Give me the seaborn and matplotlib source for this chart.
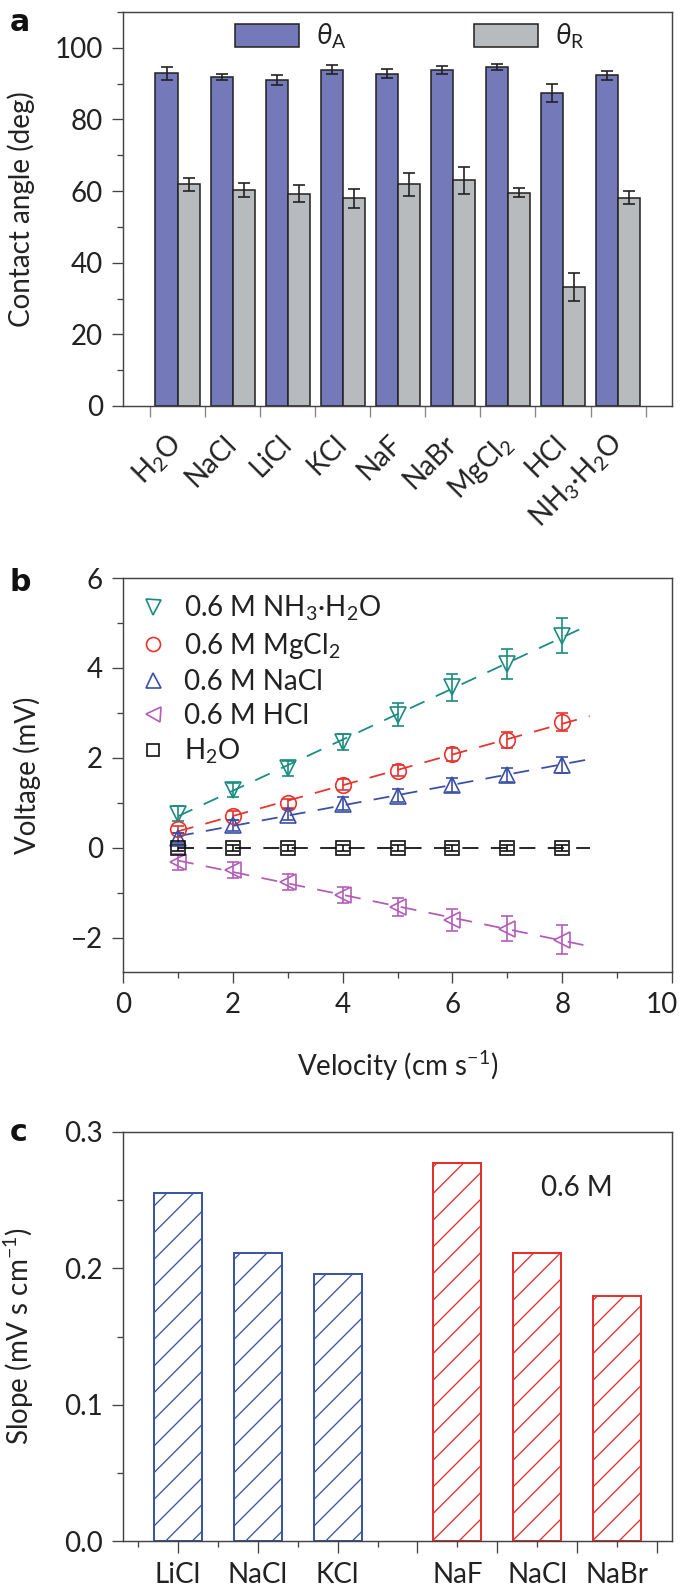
import numpy as np
import pandas as pd
import matplotlib
matplotlib.use("Agg")
import matplotlib.pyplot as plt
import matplotlib.transforms as mtransforms
import seaborn as sns

# panel a: advancing / receding contact angles
salts_a = ["H$_2$O", "NaCl", "LiCl", "KCl", "NaF", "NaBr", "MgCl$_2$", "HCl", "NH$_3$·H$_2$O"]
theta_adv = [92.9, 91.9, 91.0, 93.9, 92.8, 93.7, 94.7, 87.4, 92.3]
theta_adv_err = [1.8, 0.8, 1.4, 1.2, 1.25, 1.1, 0.8, 2.6, 1.25]
theta_rec = [61.9, 60.3, 59.3, 58.0, 61.9, 63.0, 59.6, 33.3, 58.2]
theta_rec_err = [1.75, 2.0, 2.4, 2.7, 3.15, 3.8, 1.35, 3.9, 1.7]

# panel b: voltage vs velocity
velocity = [1, 2, 3, 4, 5, 6, 7, 8]
v_nh3 = [0.76, 1.29, 1.77, 2.36, 2.96, 3.57, 4.09, 4.72]
v_nh3_err = [0.17, 0.16, 0.17, 0.18, 0.26, 0.30, 0.33, 0.39]
v_mgcl2 = [0.41, 0.71, 0.99, 1.40, 1.72, 2.08, 2.40, 2.79]
v_mgcl2_err = [0.08, 0.10, 0.10, 0.12, 0.12, 0.15, 0.18, 0.20]
v_nacl = [0.22, 0.50, 0.74, 0.98, 1.16, 1.40, 1.62, 1.85]
v_nacl_err = [0.12, 0.12, 0.12, 0.14, 0.15, 0.16, 0.15, 0.18]
v_hcl = [-0.32, -0.50, -0.75, -1.04, -1.32, -1.60, -1.80, -2.04]
v_hcl_err = [0.18, 0.18, 0.18, 0.18, 0.20, 0.24, 0.28, 0.33]
v_h2o = [0, 0, 0, 0, 0, 0, 0, 0]
v_h2o_err = [0.06, 0.06, 0.06, 0.06, 0.06, 0.06, 0.06, 0.06]

# panel c: slopes
salts_c = ["LiCl", "NaCl", "KCl", "NaF", "NaCl", "NaBr"]
slope_c = [0.255, 0.211, 0.196, 0.277, 0.211, 0.180]
group_c = ["cation", "cation", "cation", "anion", "anion", "anion"]

sns.set_theme(style="ticks")
plt.rcParams["font.family"] = ["Lato", "DejaVu Sans"]
plt.rcParams["mathtext.fontset"] = "custom"
plt.rcParams["mathtext.rm"] = "Lato"
plt.rcParams["mathtext.it"] = "Lato:italic"
plt.rcParams["mathtext.fallback"] = "stixsans"
plt.rcParams["hatch.linewidth"] = 1.2
plt.rcParams["axes.edgecolor"] = "#444444"
plt.rcParams["axes.linewidth"] = 1.3
plt.rcParams["text.color"] = "#222222"
plt.rcParams["axes.labelcolor"] = "#222222"

FS = 25
DPI = 80
W, H = 684, 1595
fig = plt.figure(figsize=(W / DPI, H / DPI), dpi=DPI)
ax_a = fig.add_axes([123 / W, 1 - 406 / H, 549 / W, 394 / H])
ax_b = fig.add_axes([123 / W, 1 - 972 / H, 549 / W, 394 / H])
ax_c = fig.add_axes([123 / W, 1 - 1541 / H, 549 / W, 409 / H])


def style_ticks(ax):
    ax.tick_params(which="both", direction="out", color="#444444", width=1.2,
                   labelsize=FS, labelcolor="#222222")
    ax.tick_params(which="major", length=10)
    ax.tick_params(which="minor", length=5.5)
    ax.tick_params(axis="y", which="major", pad=8)
    for s in ax.spines.values():
        s.set_color("#444444")


# ---------- a ----------
df_a = pd.DataFrame({
    "salt": salts_a * 2,
    "angle": theta_adv + theta_rec,
    "kind": [r"$\theta_{\mathrm{A}}$"] * 9 + [r"$\theta_{\mathrm{R}}$"] * 9,
})
sns.barplot(data=df_a, x="salt", y="angle", hue="kind", palette=["#7479BA", "#B8BBBE"],
            edgecolor="#222222", linewidth=1.4, errorbar=None, saturation=1, ax=ax_a)
for cont, err in zip(ax_a.containers, [theta_adv_err, theta_rec_err]):
    xs = [b.get_x() + b.get_width() / 2 for b in cont]
    ys = [b.get_height() for b in cont]
    ax_a.errorbar(xs, ys, yerr=err, fmt="none", ecolor="#222222", elinewidth=1.5,
                  capsize=5, capthick=1.5)
ax_a.set_xlim(-0.99, 8.98)
ax_a.set_ylim(0, 110)
ax_a.set_yticks(np.arange(0, 101, 20))
ax_a.set_yticks(np.arange(10, 111, 20), minor=True)
ax_a.set_xticks(np.arange(-0.5, 9, 1), minor=True)
style_ticks(ax_a)
ax_a.tick_params(axis="x", which="major", length=0, pad=30)
ax_a.tick_params(axis="x", which="minor", length=10, color="#888888")
for lbl in ax_a.get_xticklabels():
    lbl.set_rotation(45)
    lbl.set_ha("right")
    lbl.set_va("center")
    lbl.set_rotation_mode("anchor")
ax_a.set_xlabel("")
ax_a.set_ylabel("Contact angle (deg)", fontsize=FS)
ax_a.yaxis.set_label_coords(-0.16, 0.5)
sns.move_legend(ax_a, "upper left", bbox_to_anchor=(0.204, 0.975), ncol=2, title=None,
                frameon=False, fontsize=FS, handlelength=2.3, handleheight=0.9,
                handletextpad=0.6, columnspacing=4.6, borderpad=0, borderaxespad=0)

# ---------- b ----------
series_b = [
    ("0.6 M NH$_3$·H$_2$O", v_nh3, v_nh3_err, "v", "#1A8C80", 15),
    ("0.6 M MgCl$_2$", v_mgcl2, v_mgcl2_err, "o", "#E8332E", 14),
    ("0.6 M NaCl", v_nacl, v_nacl_err, "^", "#3A4FA5", 15),
    ("0.6 M HCl", v_hcl, v_hcl_err, "<", "#B35DB8", 15),
    ("H$_2$O", v_h2o, v_h2o_err, "s", "#111111", 12),
]
handles, labels = [], []
fit_x = np.array([1.0, 8.5])
for label, vals, err, mk, col, ms in series_b:
    coef = np.polyfit(velocity, vals, 1)
    ax_b.plot(fit_x, np.polyval(coef, fit_x), color=col, lw=1.6, ls=(0, (9, 7)))
    c = ax_b.errorbar(velocity, vals, yerr=err, fmt=mk, mfc="none", mec=col, ms=ms,
                      mew=1.5, ecolor=col, elinewidth=1.5, capsize=5, capthick=1.5)
    handles.append(c[0])
    labels.append(label)
ax_b.set_xlim(0, 10)
ax_b.set_ylim(-2.76, 6)
ax_b.set_xticks(np.arange(0, 11, 2))
ax_b.set_xticks(np.arange(1, 10, 2), minor=True)
ax_b.set_yticks(np.arange(-2, 7, 2))
ax_b.set_yticks(np.arange(-1, 6, 2), minor=True)
style_ticks(ax_b)
ax_b.tick_params(axis="x", which="major", pad=8)
# keep the last tick label ("10") inside the canvas
last = ax_b.get_xticklabels()[-1]
last.set_transform(last.get_transform() + mtransforms.ScaledTranslation(-10 / DPI, 0, fig.dpi_scale_trans))
ax_b.set_xlabel("Velocity (cm s$^{-1}$)", fontsize=FS, labelpad=28)
ax_b.set_ylabel("Voltage (mV)", fontsize=FS)
ax_b.yaxis.set_label_coords(-0.15, 0.5)
ax_b.legend(handles, labels, loc="upper left", bbox_to_anchor=(0.03, 0.96), frameon=False,
            fontsize=FS, handlelength=1.0, handletextpad=0.6, labelspacing=0.28,
            borderpad=0, borderaxespad=0, markerscale=0.9)

# ---------- c ----------
# bar positions: second group shifted by half a slot
pos_c = [i + 1 + (0.5 if g == "anion" else 0) for i, g in enumerate(group_c)]
sns.barplot(x=pos_c, y=slope_c, hue=group_c, palette={"cation": "#3D55A5", "anion": "#E5302B"},
            native_scale=True, dodge=False, width=0.6, fill=False, linewidth=1.8,
            errorbar=None, legend=False, ax=ax_c)
for p in ax_c.patches:
    p.set_hatch("/")
ax_c.set_xlim(0.31, 7.19)
ax_c.set_ylim(0, 0.3)
ax_c.set_yticks([0.0, 0.1, 0.2, 0.3])
ax_c.set_yticklabels(["0.0", "0.1", "0.2", "0.3"])
ax_c.set_yticks([0.05, 0.15, 0.25], minor=True)
ax_c.set_xticks(np.arange(1, 8, 1))
ax_c.set_xticklabels([])
ax_c.set_xticks(np.arange(0.5, 7, 1), minor=True)
style_ticks(ax_c)
ax_c.tick_params(axis="x", which="major", length=11)
ax_c.tick_params(axis="x", which="minor", length=5.5)
sec = ax_c.secondary_xaxis("bottom")
sec.set_xticks(pos_c)
sec.set_xticklabels(salts_c)
sec.tick_params(length=0, pad=19, labelsize=FS, labelcolor="#222222")
sec.spines["bottom"].set_visible(False)
ax_c.set_ylabel("Slope (mV s cm$^{-1}$)", fontsize=FS)
ax_c.yaxis.set_label_coords(-0.158, 0.5)
ax_c.text(6.0, 0.2588, "0.6 M", ha="center", va="center", fontsize=FS, color="#222222")

# panel letters
for letter, ytop in [("a", 8), ("b", 568), ("c", 1118)]:
    fig.text(10 / W, 1 - ytop / H, letter, fontsize=27, fontweight="bold",
             family=["DejaVu Sans"], va="top", ha="left", color="#111111")

fig.savefig("out.png", dpi=DPI)
